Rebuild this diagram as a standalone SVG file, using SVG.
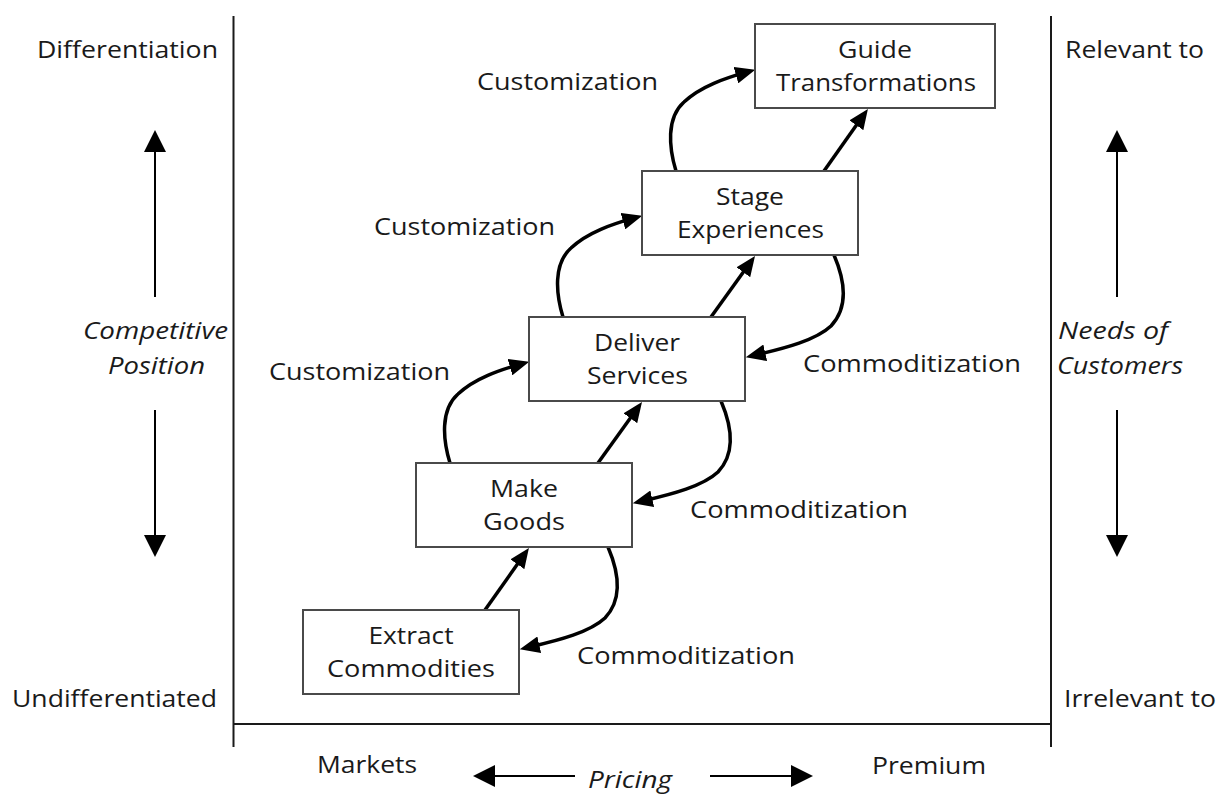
<svg xmlns="http://www.w3.org/2000/svg" width="1218" height="794" viewBox="0 0 1218 794">
<style>
  text { font-family: "Open Sans", "Noto Sans", "DejaVu Sans", sans-serif; font-size: 24px; fill: #1a1a1a; }
  .it { font-style: italic; }
  .mid { text-anchor: middle; }
  .box { fill: #fff; stroke: #4a4a4a; stroke-width: 2; }
  .frame { stroke: #1a1a1a; stroke-width: 2; fill: none; }
  .axis { stroke: #000; stroke-width: 2; fill: none; marker-end: url(#ax); }
  .conn { stroke: #000; stroke-width: 3.5; fill: none; marker-end: url(#ah); }
</style>
<defs>
  <marker id="ah" markerUnits="userSpaceOnUse" markerWidth="20" markerHeight="17" refX="10" refY="8.5" orient="auto">
    <path d="M0,0 L20,8.5 L0,17 z" fill="#000"/>
  </marker>
  <marker id="ax" markerUnits="userSpaceOnUse" markerWidth="22" markerHeight="22" refX="18" refY="11" orient="auto">
    <path d="M0,0 L22,11 L0,22 z" fill="#000"/>
  </marker>
</defs>
<rect x="0" y="0" width="1218" height="794" fill="#fff"/>

<g id="frame">
  <line class="frame" x1="233.5" y1="16" x2="233.5" y2="747"/>
  <line class="frame" x1="1051" y1="16" x2="1051" y2="747"/>
  <line class="frame" x1="233.5" y1="724" x2="1051" y2="724"/>
</g>

<g id="axes">
  <path class="axis" d="M155,297 L155,134"/>
  <path class="axis" d="M155,410 L155,553"/>
  <path class="axis" d="M1117,297 L1117,134"/>
  <path class="axis" d="M1117,410 L1117,553"/>
  <path class="axis" d="M575,776 L477,776"/>
  <path class="axis" d="M710,776 L809,776"/>
</g>

<g id="axis-labels">
  <text x="37" y="58" textLength="181" lengthAdjust="spacingAndGlyphs">Differentiation</text>
  <text x="1065" y="58" textLength="139" lengthAdjust="spacingAndGlyphs">Relevant to</text>
  <text class="it" x="83" y="339" textLength="145" lengthAdjust="spacingAndGlyphs">Competitive</text>
  <text class="it" x="108" y="374" textLength="97" lengthAdjust="spacingAndGlyphs">Position</text>
  <text class="it" x="1058" y="339" textLength="110" lengthAdjust="spacingAndGlyphs">Needs of</text>
  <text class="it" x="1057" y="374" textLength="126" lengthAdjust="spacingAndGlyphs">Customers</text>
  <text x="12" y="707" textLength="205" lengthAdjust="spacingAndGlyphs">Undifferentiated</text>
  <text x="1064" y="707" textLength="152" lengthAdjust="spacingAndGlyphs">Irrelevant to</text>
  <text x="317" y="773" textLength="100" lengthAdjust="spacingAndGlyphs">Markets</text>
  <text class="it" x="588" y="788" textLength="84" lengthAdjust="spacingAndGlyphs">Pricing</text>
  <text x="872" y="774" textLength="114" lengthAdjust="spacingAndGlyphs">Premium</text>
</g>

<g id="connectors">
  <path class="conn" d="M485,610 L523.15,556.1"/>
  <path class="conn" d="M598,463 L636.15,410.1"/>
  <path class="conn" d="M711,317 L749.15,264.1"/>
  <path class="conn" d="M824,171 L862.15,117.1"/>
  <path class="conn" d="M450,463 c-7,-23 -10,-53 8,-69 c17,-16 42,-24 61.6,-29.6"/>
  <path class="conn" d="M563,317 c-7,-23 -10,-53 8,-69 c17,-16 42,-24 61.6,-29.6"/>
  <path class="conn" d="M676,171 c-7,-23 -10,-53 8,-69 c17,-16 42,-24 61.6,-29.6"/>
  <path class="conn" d="M608,547 c12,28 14,53 -3,71 c-15,14 -45,22 -75.5,29"/>
  <path class="conn" d="M721,401 c12,28 14,53 -3,71 c-15,14 -45,22 -75.5,29"/>
  <path class="conn" d="M834,255 c12,28 14,53 -3,71 c-15,14 -45,22 -75.5,29"/>
</g>

<g id="connector-labels">
  <text x="477" y="90" textLength="181" lengthAdjust="spacingAndGlyphs">Customization</text>
  <text x="374" y="235" textLength="181" lengthAdjust="spacingAndGlyphs">Customization</text>
  <text x="269" y="380" textLength="181" lengthAdjust="spacingAndGlyphs">Customization</text>
  <text x="803" y="372" textLength="218" lengthAdjust="spacingAndGlyphs">Commoditization</text>
  <text x="690" y="518" textLength="218" lengthAdjust="spacingAndGlyphs">Commoditization</text>
  <text x="577" y="664" textLength="218" lengthAdjust="spacingAndGlyphs">Commoditization</text>
</g>

<g id="node-guide">
  <rect class="box" x="755" y="24" width="240" height="84"/>
  <text class="mid" x="875" y="58" textLength="74" lengthAdjust="spacingAndGlyphs">Guide</text>
  <text class="mid" x="876" y="91" textLength="200" lengthAdjust="spacingAndGlyphs">Transformations</text>
</g>
<g id="node-stage">
  <rect class="box" x="642" y="171" width="216" height="84"/>
  <text class="mid" x="750" y="205" textLength="68" lengthAdjust="spacingAndGlyphs">Stage</text>
  <text class="mid" x="750.5" y="238" textLength="147" lengthAdjust="spacingAndGlyphs">Experiences</text>
</g>
<g id="node-deliver">
  <rect class="box" x="529" y="317" width="216" height="84"/>
  <text class="mid" x="637" y="351" textLength="86" lengthAdjust="spacingAndGlyphs">Deliver</text>
  <text class="mid" x="637.5" y="384" textLength="101" lengthAdjust="spacingAndGlyphs">Services</text>
</g>
<g id="node-make">
  <rect class="box" x="416" y="463" width="216" height="84"/>
  <text class="mid" x="524" y="497" textLength="68" lengthAdjust="spacingAndGlyphs">Make</text>
  <text class="mid" x="524" y="530" textLength="82" lengthAdjust="spacingAndGlyphs">Goods</text>
</g>
<g id="node-extract">
  <rect class="box" x="303" y="610" width="216" height="84"/>
  <text class="mid" x="411" y="644" textLength="85" lengthAdjust="spacingAndGlyphs">Extract</text>
  <text class="mid" x="411" y="677" textLength="168" lengthAdjust="spacingAndGlyphs">Commodities</text>
</g>
</svg>
